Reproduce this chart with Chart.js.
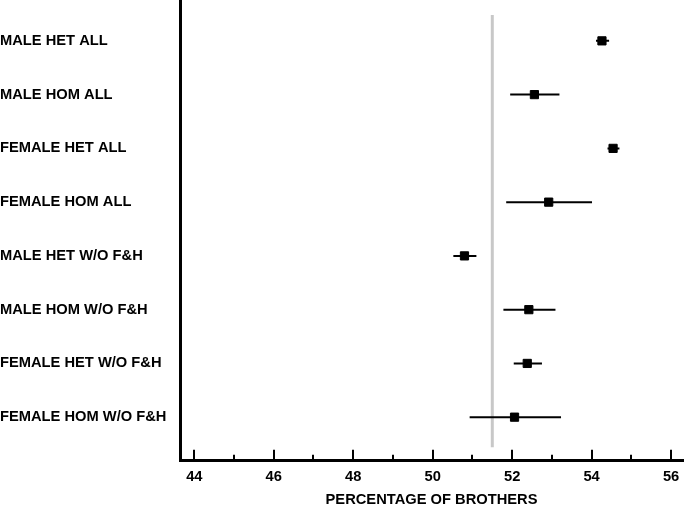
<!DOCTYPE html>
<html>
<head>
<meta charset="utf-8">
<script src="https://cdn.jsdelivr.net/npm/chart.js@4/dist/chart.umd.min.js"></script>
<style>
  html, body { margin: 0; padding: 0; background: #fff; }
  #wrap { width: 685px; height: 510px; }
</style>
</head>
<body>
<div id="wrap"><canvas id="forest" width="685" height="510"></canvas></div>
<script>
// rows, top to bottom
const rowLabels = [
  "MALE HET ALL",
  "MALE HOM ALL",
  "FEMALE HET ALL",
  "FEMALE HOM ALL",
  "MALE HET W/O F&H",
  "MALE HOM W/O F&H",
  "FEMALE HET W/O F&H",
  "FEMALE HOM W/O F&H"
];
// percentage of brothers: estimate and interval ends
const means = [54.26, 52.56, 54.54, 52.92, 50.80, 52.42, 52.38, 52.06];
const lower = [54.11, 51.95, 54.40, 51.85, 50.52, 51.78, 52.04, 50.93];
const upper = [54.44, 53.19, 54.70, 54.01, 51.10, 53.09, 52.75, 53.23];
const refValue = 51.5;
const xTickValues = [44, 46, 48, 50, 52, 54, 56];
const xMinorValues = [45, 47, 49, 51, 53, 55];

const FONT = "'Liberation Sans', Arial, sans-serif";
const FSIZE = 14.7;

// error bars, one line dataset each
const barSets = means.map((m, i) => ({
  type: "line",
  data: [{ x: lower[i], y: i + 1 }, { x: upper[i], y: i + 1 }],
  borderColor: "#000",
  borderWidth: 2,
  pointRadius: 0,
  order: 2
}));

const refSet = {
  type: "line",
  data: [{ x: refValue, y: 0.52 }, { x: refValue, y: 8.56 }],
  borderColor: "#c8c8c8",
  borderWidth: 3,
  pointRadius: 0,
  order: 3
};

const pointSet = {
  type: "scatter",
  data: means.map((m, i) => ({ x: m, y: i + 1 })),
  pointStyle: "rect",
  pointRadius: 5.8,
  backgroundColor: "#000",
  borderColor: "#000",
  borderWidth: 1,
  order: 1
};

// label paddings would push the plot area in, drop them
const zeroPad = s => {
  s.paddingLeft = 0; s.paddingRight = 0; s.paddingTop = 0; s.paddingBottom = 0;
};

// small inward tick marks on the x axis
const innerTicks = {
  id: "innerTicks",
  afterDatasetsDraw(chart) {
    const sx = chart.scales.x;
    const ctx = chart.ctx;
    const base = chart.chartArea.bottom;
    ctx.save();
    ctx.strokeStyle = "#000";
    ctx.lineWidth = 2;
    const draw = (v, len) => {
      const px = Math.round(sx.getPixelForValue(v));
      ctx.beginPath();
      ctx.moveTo(px, base);
      ctx.lineTo(px, base - len);
      ctx.stroke();
    };
    xTickValues.forEach(v => draw(v, 11));
    xMinorValues.forEach(v => draw(v, 6));
    ctx.restore();
  }
};

new Chart(document.getElementById("forest"), {
  type: "scatter",
  data: { datasets: [refSet, ...barSets, pointSet] },
  plugins: [innerTicks],
  options: {
    responsive: false,
    animation: false,
    layout: { autoPadding: false, padding: { left: 0, right: 2, top: 0, bottom: 0 } },
    plugins: { legend: { display: false }, tooltip: { enabled: false } },
    scales: {
      x: {
        type: "linear",
        min: 43.64,
        max: 56.3,
        afterBuildTicks: s => { s.ticks = xTickValues.map(v => ({ value: v })); },
        afterFit: zeroPad,
        grid: { display: false, drawTicks: false },
        border: { display: true, color: "#000", width: 3 },
        ticks: {
          color: "#000",
          padding: 7,
          font: { family: FONT, size: FSIZE, weight: "bold" }
        },
        title: {
          display: true,
          text: "PERCENTAGE OF BROTHERS",
          color: "#000",
          padding: { top: -1.7, bottom: 1.7 },
          font: { family: FONT, size: FSIZE, weight: "bold" }
        }
      },
      y: {
        type: "linear",
        reverse: true,
        min: 0.24,
        max: 8.81,
        afterBuildTicks: s => { s.ticks = rowLabels.map((t, i) => ({ value: i + 1 })); },
        afterFit: s => { zeroPad(s); s.width = 180; },
        grid: { display: false, drawTicks: false },
        border: { display: true, color: "#000", width: 3 },
        ticks: {
          color: "#000",
          crossAlign: "far",
          autoSkip: false,
          font: { family: FONT, size: FSIZE, weight: "bold" },
          callback: v => rowLabels[Math.round(v) - 1] || ""
        }
      }
    }
  }
});
</script>
</body>
</html>
